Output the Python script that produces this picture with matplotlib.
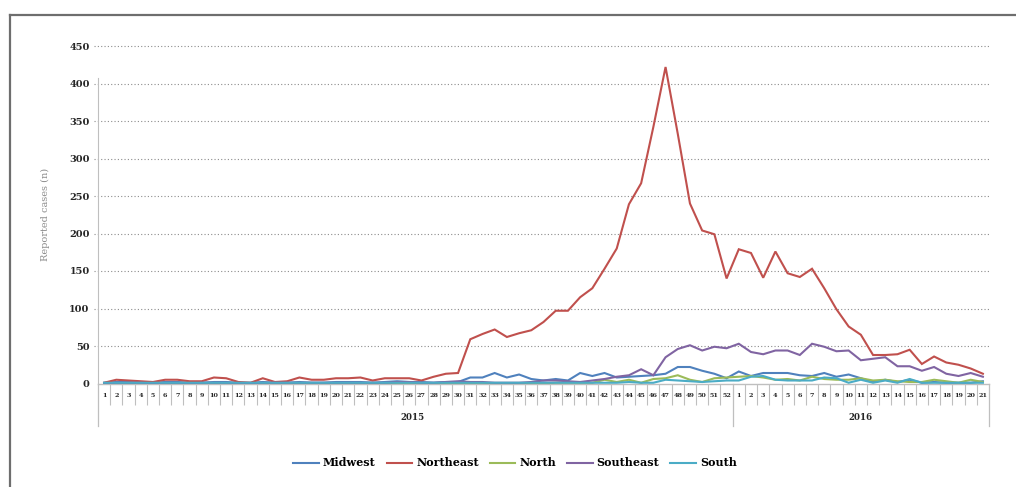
import matplotlib
matplotlib.use("Agg")
import matplotlib.pyplot as plt
from matplotlib.lines import Line2D

# Epidemiological weeks: 2015 (1-52) followed by 2016 (1-21)
weeks_2015 = list(range(1, 53))
weeks_2016 = list(range(1, 22))
week_labels = [str(w) for w in weeks_2015 + weeks_2016]
years = ["2015", "2016"]

regions = ["Midwest", "Northeast", "North", "Southeast", "South"]

midwest = [1, 2, 2, 1, 1, 2, 2, 1, 1, 2, 2, 1, 1, 2, 1, 1, 2, 1, 1, 2,
           2, 2, 1, 2, 3, 2, 2, 1, 2, 2, 8, 8, 14, 8, 12, 6, 4, 6, 4, 14,
           10, 14, 8, 9, 10, 11, 13, 22, 22, 17, 13, 7,
           16, 10, 14, 14, 14, 11, 10, 14, 9, 12, 7, 2, 5, 2, 5, 1, 2, 1,
           1, 1, 3]
northeast = [1, 5, 4, 3, 2, 5, 5, 3, 3, 8, 7, 2, 1, 7, 2, 3, 8, 5, 5, 7,
             7, 8, 4, 7, 7, 7, 4, 9, 13, 14, 59, 66, 72, 62, 67, 71, 82, 97,
             97, 115, 127, 153, 180, 239, 267, 342, 422, 333, 240, 204, 199,
             140,
             179, 174, 141, 176, 147, 142, 153, 127, 99, 76, 65, 38, 38, 39,
             45, 26, 36, 28, 25, 20, 13]
north = [0, 0, 0, 0, 0, 0, 0, 0, 0, 0, 0, 0, 0, 0, 0, 0, 0, 0, 0, 0,
         0, 0, 0, 0, 0, 0, 0, 0, 0, 0, 0, 0, 0, 0, 0, 0, 0, 1, 1, 1,
         1, 5, 2, 5, 1, 6, 7, 11, 5, 2, 7, 8,
         9, 10, 8, 5, 6, 4, 9, 6, 5, 5, 7, 4, 5, 3, 2, 2, 5, 3, 1, 5, 2]
southeast = [0, 1, 1, 1, 0, 1, 1, 0, 1, 1, 1, 0, 0, 1, 1, 1, 1, 1, 1, 1,
             1, 1, 1, 1, 2, 2, 1, 1, 2, 3, 2, 2, 1, 1, 1, 2, 4, 4, 3, 2,
             4, 6, 9, 11, 19, 11, 35, 46, 51, 44, 49, 47,
             53, 42, 39, 44, 44, 38, 53, 49, 43, 44, 31, 33, 35, 23, 23, 17,
             22, 13, 10, 14, 9]
south = [1, 1, 1, 1, 1, 1, 1, 1, 1, 1, 1, 1, 1, 1, 1, 1, 1, 1, 1, 1,
         1, 1, 1, 1, 1, 1, 1, 1, 1, 1, 1, 1, 1, 1, 1, 1, 1, 1, 1, 1,
         1, 1, 1, 2, 1, 1, 5, 4, 3, 2, 3, 4,
         4, 9, 10, 5, 4, 4, 4, 8, 7, 1, 5, 1, 4, 1, 6, 1, 1, 1, 1, 1, 1]

series = [midwest, northeast, north, southeast, south]
colors = ["#4F81BD", "#C0504D", "#9BBB59", "#8064A2", "#4BACC6"]

y_ticks = list(range(0, 451, 50))

SERIF = "DejaVu Serif"
plt.rcParams["font.family"] = SERIF

W, H = 1016, 487
fig = plt.figure(figsize=(W / 100, H / 100), dpi=100)
ax = fig.add_axes([98 / W, 1 - 383.5 / H, 891 / W, 337.5 / H])

n = len(week_labels)
xs = list(range(n))
for name, vals, col in zip(regions, series, colors):
    ax.plot(xs, vals, color=col, linewidth=1.5, label=name,
            solid_joinstyle="miter", zorder=3)

ax.set_xlim(-0.5, n - 0.5)
ax.set_ylim(0, 450)

# dotted horizontal grid
ytr = ax.get_yaxis_transform()
for v in y_ticks[1:]:
    ax.plot([-0.004, 1.0], [v, v], transform=ytr, color="#8c8c8c",
            linestyle=(0, (1, 2)), linewidth=0.8, clip_on=False, zorder=1)

# spines
for s in ["top", "right"]:
    ax.spines[s].set_visible(False)
ax.spines["left"].set_color("#bfbfbf")
ax.spines["left"].set_bounds(0, 408)
ax.spines["bottom"].set_color("#bfbfbf")
ax.spines["bottom"].set_linewidth(1.0)

# y axis
ax.set_yticks(y_ticks)
ax.set_yticklabels([str(v) for v in y_ticks], fontsize=7, fontweight="bold",
                   color="#262626")
ax.tick_params(axis="y", length=0, pad=6)
ax.set_ylabel("Reported cases (n)", fontsize=7, color="#8c8c8c", labelpad=14)

# x axis: week labels with separators between categories
ax.set_xticks(xs)
ax.set_xticklabels(week_labels, fontsize=4.6, fontweight="bold",
                   color="#262626")
ax.tick_params(axis="x", length=0, pad=7)
year_break = len(weeks_2015) - 0.5
minor = [i + 0.5 for i in range(n - 1) if i + 0.5 != year_break]
ax.set_xticks(minor, minor=True)
ax.tick_params(axis="x", which="minor", length=15, width=0.8,
               color="#bfbfbf", direction="out")

xtr = ax.get_xaxis_transform()
long_drop = -(426 - 383.5) / 337.5
for xb in [-0.5, year_break, n - 0.5]:
    ax.plot([xb, xb], [0, long_drop], transform=xtr, color="#bfbfbf",
            linewidth=0.9, clip_on=False)

year_y = -(418 - 383.5) / 337.5
year_centers = [(len(weeks_2015) - 1) / 2 - 0.2,
                len(weeks_2015) + (len(weeks_2016) - 1) / 2]
for lab, xc in zip(years, year_centers):
    ax.text(xc, year_y, lab, transform=xtr, ha="center", va="center",
            fontsize=6.2, fontweight="bold", color="#262626")

# legend
fig.legend(loc="center", bbox_to_anchor=(515 / W, 1 - 463 / H), ncol=5,
           frameon=False, handlelength=2.3, handletextpad=0.35,
           columnspacing=1.0, prop={"family": SERIF, "weight": "bold",
                                    "size": 8})

# outer frame: top and left edges only
fx, fy = 10 / W, 1 - 15 / H
frame_kw = dict(transform=fig.transFigure, color="#6e6e6e", linewidth=1.6,
                solid_capstyle="projecting")
fig.add_artist(Line2D([fx, 1.02], [fy, fy], **frame_kw))
fig.add_artist(Line2D([fx, fx], [fy, -0.02], **frame_kw))

fig.savefig("out.png", dpi=100)
